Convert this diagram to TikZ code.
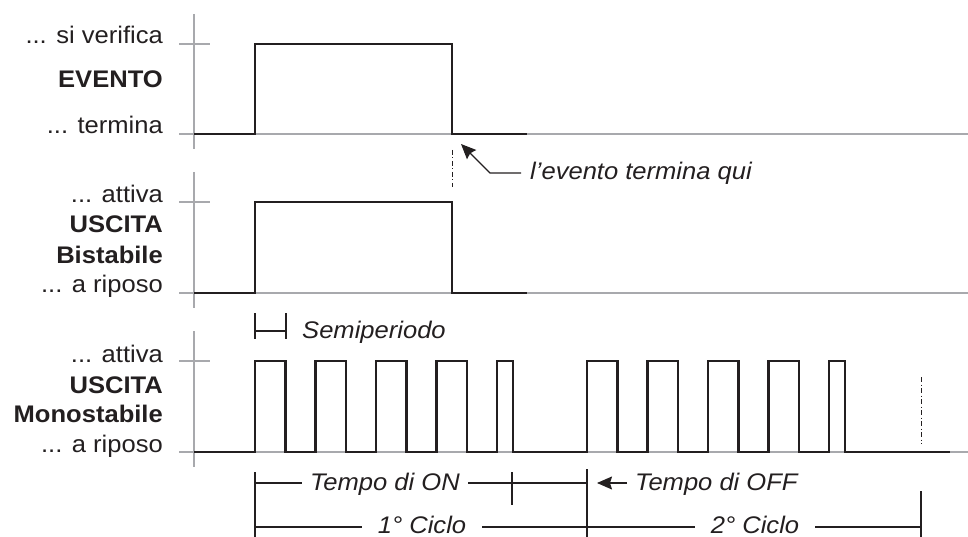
\documentclass[tikz,border=0pt]{standalone}
\usepackage{fontspec}
\setmainfont[FakeStretch=1.065]{Liberation Sans}
\usetikzlibrary{arrows.meta}
\definecolor{grigio}{RGB}{168,169,173}
\definecolor{nero}{RGB}{35,31,32}
\newcommand\corpo{\fontsize{24}{29}\selectfont}
\tikzset{
  asse/.style={draw=grigio, line width=2.3pt},
  segnale/.style={draw=nero, line width=2.8pt, line join=miter},
  quota/.style={draw=nero, line width=1.1pt},
  tratto/.style={draw=nero, line width=1pt, dash pattern=on 5pt off 2.5pt on 1pt off 2.5pt},
  livello/.style={anchor=base east, inner sep=0pt, text=nero, font=\corpo},
  titolo/.style={livello, font=\corpo\bfseries},
  nota/.style={anchor=base, inner sep=0pt, inner xsep=8pt, text=nero, font=\corpo\itshape},
  freccia/.style={-{Stealth[length=15pt,width=13pt,inset=2pt]}}
}
\begin{document}
\begin{tikzpicture}[x=1pt,y=-1pt]
\useasboundingbox (0,0) rectangle (968,537);

% assi
\foreach \alto/\basso in {44/134,202/293,361/452}{
  \draw[asse] (194,\alto-30) -- (194,\basso+15);
  \draw[asse] (179,\alto) -- (210,\alto);
  \draw[asse] (179,\basso) -- (968,\basso);
}

% etichette
\node[livello] (verifica) at (163,44) {... si verifica};
\node[titolo] (evento) at (163,88) {EVENTO};
\node[livello] (termina) at (163,134) {... termina};
\node[livello] (attivab) at (163,203) {... attiva};
\node[titolo] (uscitab) at (163,233) {USCITA};
\node[titolo] (bistabile) at (163,263) {Bistabile};
\node[livello] (riposob) at (163,292) {... a riposo};
\node[livello] (attivam) at (163,362) {... attiva};
\node[titolo] (uscitam) at (163,393) {USCITA};
\node[titolo] (monostabile) at (163,422) {Monostabile};
\node[livello] (riposom) at (163,452) {... a riposo};

% segnali
\draw[segnale] (194,134) -- (255,134) -- (255,44) -- (452,44) -- (452,134) -- (527,134);
\draw[segnale] (194,293) -- (255,293) -- (255,202) -- (452,202) -- (452,293) -- (527,293);
\draw[segnale] (194,452)
  foreach \c in {0,332}{
    foreach \k in {0,...,3}{
      -- ({255+\c+60.5*\k},452) -- ++(0,-91) -- ++(30.5,0) -- ++(0,91)
    }
    -- ({497+\c},452) -- ++(0,-91) -- ++(16,0) -- ++(0,91)
  } -- (950,452);

\draw[tratto] (452,150) -- (452,187);
\draw[tratto] (921,377) -- (921,444);

% l'evento termina qui
\node[nota, anchor=base west, inner xsep=0pt] (fine) at (530,180) {l’evento termina qui};
\coordinate (fineevento) at (461,144);
\coordinate (gomito) at (490,173);
\coordinate (attacco) at (521,173);
\draw[quota, freccia] (attacco) -- (gomito) -- (fineevento);

% semiperiodo
\draw[quota] (255,313) -- (255,339) (286,313) -- (286,339) (255,331) -- (286,331);
\node[nota, anchor=base west, inner xsep=0pt] (semi) at (302,338) {Semiperiodo};

% tempi
\coordinate (t0) at (255,483);
\coordinate (t2) at (587,483);
\coordinate (offcoda) at (627,483);
\coordinate (offpunta) at (597,483);
\draw[quota] (255,472) -- (255,537);
\draw[quota] (512,472) -- (512,505);
\draw[quota] (587,469) -- (587,537);
\draw[quota] (921,491) -- (921,537);
\node[nota] (ton) at (385,490) {Tempo di ON};
\draw[quota] (t0) -- (t0 -| ton.west) (t0 -| ton.east) -- (t2);
\node[nota, anchor=base west, inner xsep=0pt] (toff) at (635,490) {Tempo di OFF};
\draw[quota, freccia] (offcoda) -- (offpunta);

% cicli
\coordinate (c0) at (255,527);
\coordinate (c1) at (587,527);
\coordinate (c2) at (921,527);
\node[nota, inner xsep=16pt] (ciclo1) at (422,533) {1° Ciclo};
\node[nota, inner xsep=16pt] (ciclo2) at (755,533) {2° Ciclo};
\draw[quota] (c0) -- (c0 -| ciclo1.west) (c1 -| ciclo1.east) -- (c1) -- (c1 -| ciclo2.west) (c2 -| ciclo2.east) -- (c2);
\end{tikzpicture}
\end{document}
